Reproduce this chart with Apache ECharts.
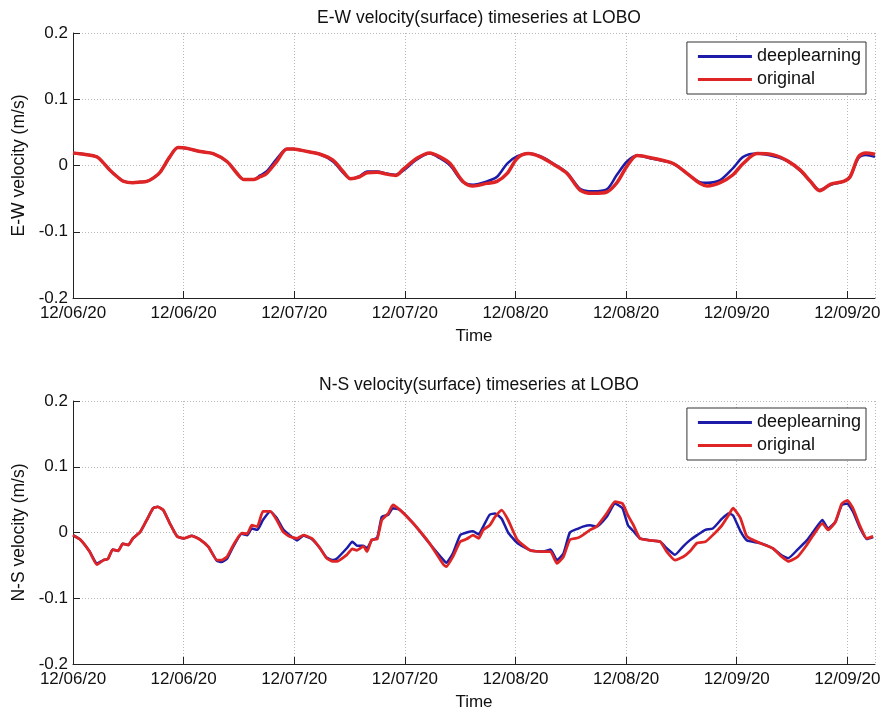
<!DOCTYPE html>
<html>
<head>
<meta charset="utf-8">
<script src="https://cdn.jsdelivr.net/npm/echarts@6/dist/echarts.min.js"></script>
<style>
  html, body { margin: 0; padding: 0; background: #fff; }
  #chart { width: 886px; height: 713px; }
</style>
</head>
<body>
<div id="chart"></div>
<script>
// x axis in hours since 12/06/20 00:00, one tick every 12 h
var tickLabels = ['12/06/20', '12/06/20', '12/07/20', '12/07/20', '12/08/20', '12/08/20', '12/09/20', '12/09/20'];
var yTicks = [-0.2, -0.1, 0, 0.1, 0.2];

// E-W velocity (m/s)
var ewHours = [0, 1.2, 2.6, 3.3, 4, 4.8, 5.5, 6.5, 7.3, 8, 8.7, 9.4, 10.5, 11.4, 12.3, 13.8, 15.2, 16.7, 17.8, 18.5,
  19.6, 20.3, 21, 22.1, 23.2, 23.9, 25.4, 26.8, 28.2, 29.3, 30.1, 31.1, 31.9, 33, 34, 35, 35.8, 37.3, 38.7, 39.8,
  40.9, 42.3, 43.4, 44.9, 46, 47.1, 48.2, 49.4, 50.7, 52.1, 53.6, 55, 56.4, 57.9, 59, 60.1, 61.2, 62.9, 65.1, 66.6,
  68, 68.8, 70.2, 71.6, 72.7, 74.2, 76, 77.5, 78.9, 80, 81, 82.2, 83.6, 84.3, 85.2, 86, 87];
var ewOriginal = [0.019, 0.017, 0.013, 0.004, -0.007, -0.017, -0.024, -0.026, -0.025, -0.024, -0.019, -0.011, 0.013, 0.027, 0.026, 0.021, 0.018, 0.006, -0.012, -0.021,
  -0.021, -0.017, -0.012, 0.006, 0.025, 0.025, 0.021, 0.017, 0.008, -0.009, -0.020, -0.017, -0.011, -0.010, -0.013, -0.015, -0.006, 0.011, 0.019, 0.013,
  0.003, -0.024, -0.031, -0.027, -0.024, -0.012, 0.011, 0.018, 0.013, 0.002, -0.012, -0.037, -0.042, -0.040, -0.026, -0.001, 0.015, 0.011, 0.003, -0.012,
  -0.027, -0.031, -0.026, -0.014, 0.003, 0.018, 0.016, 0.007, -0.007, -0.024, -0.038, -0.028, -0.024, -0.017, 0.013, 0.019, 0.017];
var ewDeep = [0.019, 0.017, 0.013, 0.004, -0.007, -0.017, -0.024, -0.026, -0.025, -0.024, -0.019, -0.011, 0.013, 0.027, 0.026, 0.021, 0.018, 0.006, -0.012, -0.021,
  -0.021, -0.015, -0.009, 0.010, 0.025, 0.025, 0.021, 0.017, 0.006, -0.011, -0.020, -0.016, -0.009, -0.009, -0.012, -0.014, -0.008, 0.009, 0.018, 0.011,
  0.000, -0.025, -0.029, -0.024, -0.017, 0.003, 0.014, 0.018, 0.014, 0.003, -0.011, -0.035, -0.039, -0.036, -0.014, 0.006, 0.015, 0.010, 0.003, -0.012,
  -0.025, -0.026, -0.022, -0.004, 0.013, 0.018, 0.014, 0.007, -0.008, -0.024, -0.037, -0.029, -0.024, -0.017, 0.011, 0.016, 0.013];

// N-S velocity (m/s)
var nsHours = [0, 0.8, 1.8, 2.6, 3.3, 3.8, 4.3, 4.9, 5.4, 6, 6.5, 7.3, 8, 8.7, 9.2, 9.8, 10.5, 11.3, 12, 12.9,
  13.8, 14.7, 15.6, 16.1, 16.7, 17.4, 18.3, 18.9, 19.4, 20, 20.6, 21.4, 22.1, 22.8, 23.5, 24.3, 25, 25.9, 26.8, 27.5,
  28.2, 28.6, 29.7, 30.3, 30.8, 31.5, 31.9, 32.4, 33, 33.5, 34.2, 34.7, 35.5, 36.9, 38.7, 40.2, 40.5, 41.2, 42, 42.7,
  43.4, 44, 44.5, 45.2, 45.8, 46.5, 47.2, 48.2, 49.6, 51, 51.8, 52.5, 53.2, 53.9, 54.8, 55.3, 56.1, 56.8, 57.9, 58.8,
  59.6, 60.2, 60.8, 61.5, 62.6, 63.7, 64.4, 65.3, 66.2, 66.9, 67.7, 68.6, 69.4, 70.4, 71.1, 71.6, 72.4, 73.1, 74.5, 75.9,
  76.9, 77.6, 78.6, 79.6, 80.3, 81.3, 81.9, 82.7, 83.4, 84, 84.6, 85.4, 86.1, 86.8];
var nsOriginal = [-0.004, -0.011, -0.029, -0.049, -0.042, -0.040, -0.026, -0.028, -0.017, -0.019, -0.009, 0.001, 0.019, 0.037, 0.039, 0.034, 0.014, -0.006, -0.009, -0.005,
  -0.011, -0.022, -0.042, -0.042, -0.037, -0.019, -0.001, -0.002, 0.011, 0.009, 0.032, 0.032, 0.019, 0.001, -0.006, -0.009, -0.004, -0.009, -0.024, -0.039,
  -0.044, -0.044, -0.034, -0.025, -0.027, -0.021, -0.029, -0.011, -0.010, 0.019, 0.029, 0.042, 0.034, 0.014, -0.017, -0.049, -0.052, -0.037, -0.014, -0.010,
  -0.004, -0.009, 0.004, 0.011, 0.024, 0.034, 0.019, -0.011, -0.027, -0.029, -0.029, -0.047, -0.037, -0.011, -0.008, -0.004, 0.004, 0.009, 0.029, 0.047,
  0.044, 0.026, 0.011, -0.009, -0.012, -0.014, -0.029, -0.042, -0.037, -0.029, -0.016, -0.014, -0.004, 0.011, 0.026, 0.037, 0.022, -0.006, -0.016, -0.024,
  -0.037, -0.044, -0.037, -0.019, -0.004, 0.014, 0.004, 0.016, 0.044, 0.049, 0.037, 0.009, -0.009, -0.006];
var nsDeep = [-0.004, -0.011, -0.029, -0.047, -0.042, -0.040, -0.026, -0.028, -0.017, -0.019, -0.009, 0.001, 0.019, 0.037, 0.039, 0.034, 0.014, -0.006, -0.009, -0.005,
  -0.011, -0.022, -0.043, -0.045, -0.040, -0.021, -0.002, -0.004, 0.006, 0.004, 0.019, 0.032, 0.022, 0.005, -0.004, -0.012, -0.005, -0.010, -0.024, -0.038,
  -0.042, -0.040, -0.024, -0.014, -0.020, -0.020, -0.024, -0.012, -0.008, 0.024, 0.027, 0.037, 0.034, 0.014, -0.017, -0.042, -0.046, -0.032, -0.004, 0.000,
  0.002, -0.003, 0.009, 0.027, 0.029, 0.021, 0.000, -0.016, -0.027, -0.029, -0.026, -0.042, -0.032, 0.000, 0.006, 0.009, 0.011, 0.009, 0.024, 0.044,
  0.037, 0.011, 0.002, -0.009, -0.012, -0.014, -0.024, -0.034, -0.021, -0.012, -0.004, 0.004, 0.006, 0.021, 0.029, 0.026, 0.002, -0.012, -0.016, -0.024,
  -0.035, -0.039, -0.026, -0.012, 0.001, 0.019, 0.006, 0.016, 0.042, 0.044, 0.032, 0.006, -0.010, -0.007];

var BLUE = '#1c1ca8';
var RED = '#de2424';
var FONT = 'Liberation Sans, Arial, sans-serif';

function pairs(xs, ys) {
  var out = [];
  for (var i = 0; i < xs.length; i++) out.push([xs[i], ys[i]]);
  return out;
}

function xAxisCfg(gridIndex) {
  return {
    type: 'value',
    gridIndex: gridIndex,
    min: 0,
    max: 87,
    interval: 12,
    name: 'Time',
    nameLocation: 'middle',
    nameGap: 30,
    nameTextStyle: { color: '#111', fontSize: 17, fontFamily: FONT },
    axisLine: { onZero: false, lineStyle: { color: '#222', width: 1 } },
    axisTick: { inside: true, length: 7, lineStyle: { color: '#222' } },
    axisLabel: {
      color: '#111', fontSize: 17, fontFamily: FONT, margin: 7, showMaxLabel: false,
      formatter: function (v) {
        var i = Math.round(v / 12);
        return (v % 12 === 0 && tickLabels[i]) ? tickLabels[i] : '';
      }
    },
    splitLine: { show: true, lineStyle: { color: '#b8b8b8', type: [1, 2], width: 1 } }
  };
}

function yAxisCfg(gridIndex, name) {
  return {
    type: 'value',
    gridIndex: gridIndex,
    min: yTicks[0],
    max: yTicks[yTicks.length - 1],
    interval: 0.1,
    name: name,
    nameLocation: 'middle',
    nameGap: 45,
    nameTextStyle: { color: '#111', fontSize: 17.5, fontFamily: FONT },
    axisLine: { show: true, lineStyle: { color: '#222', width: 1 } },
    axisTick: { show: true, inside: true, length: 7, lineStyle: { color: '#222' } },
    axisLabel: {
      color: '#111', fontSize: 17, fontFamily: FONT, margin: 5,
      formatter: function (v) { return String(Math.round(v * 10) / 10); }
    },
    splitLine: { show: true, lineStyle: { color: '#b8b8b8', type: [1, 2], width: 1 } }
  };
}

function lineSeries(name, idx, data, color, width, smooth) {
  return {
    name: name,
    type: 'line',
    xAxisIndex: idx,
    yAxisIndex: idx,
    data: data,
    showSymbol: false,
    symbol: 'none',
    smooth: smooth,
    lineStyle: { color: color, width: width },
    itemStyle: { color: color },
    animation: false
  };
}

var legendCfg = function (top) {
  return {
    right: 20,
    top: top,
    orient: 'vertical',
    data: ['deeplearning', 'original'],
    icon: 'rect',
    itemWidth: 54,
    itemHeight: 3,
    itemGap: 4,
    padding: [5, 5, 5, 11],
    borderColor: '#333',
    borderWidth: 1,
    backgroundColor: '#fff',
    selectedMode: false,
    textStyle: { color: '#111', fontSize: 18, fontFamily: FONT, lineHeight: 19 }
  };
};

var chart = echarts.init(document.getElementById('chart'));
chart.setOption({
  backgroundColor: '#fff',
  animation: false,
  title: [
    { text: 'E-W velocity(surface) timeseries at LOBO', left: 474, textAlign: 'center', top: 4,
      textStyle: { color: '#111', fontSize: 17.5, fontWeight: 'normal', fontFamily: FONT } },
    { text: 'N-S velocity(surface) timeseries at LOBO', left: 474, textAlign: 'center', top: 371,
      textStyle: { color: '#111', fontSize: 17.5, fontWeight: 'normal', fontFamily: FONT } }
  ],
  legend: [legendCfg(42), legendCfg(408)],
  grid: [
    { left: 73, right: 11, top: 33, height: 265 },
    { left: 73, right: 11, top: 401, height: 263 }
  ],
  xAxis: [xAxisCfg(0), xAxisCfg(1)],
  yAxis: [yAxisCfg(0, 'E-W velocity (m/s)'), yAxisCfg(1, 'N-S velocity (m/s)')],
  series: [
    lineSeries('deeplearning', 0, pairs(ewHours, ewDeep), BLUE, 2.5, 0.3),
    lineSeries('original', 0, pairs(ewHours, ewOriginal), RED, 3.5, 0.3),
    lineSeries('deeplearning', 1, pairs(nsHours, nsDeep), BLUE, 2.5, 0.15),
    lineSeries('original', 1, pairs(nsHours, nsOriginal), RED, 2.8, 0.15)
  ]
});
</script>
</body>
</html>
